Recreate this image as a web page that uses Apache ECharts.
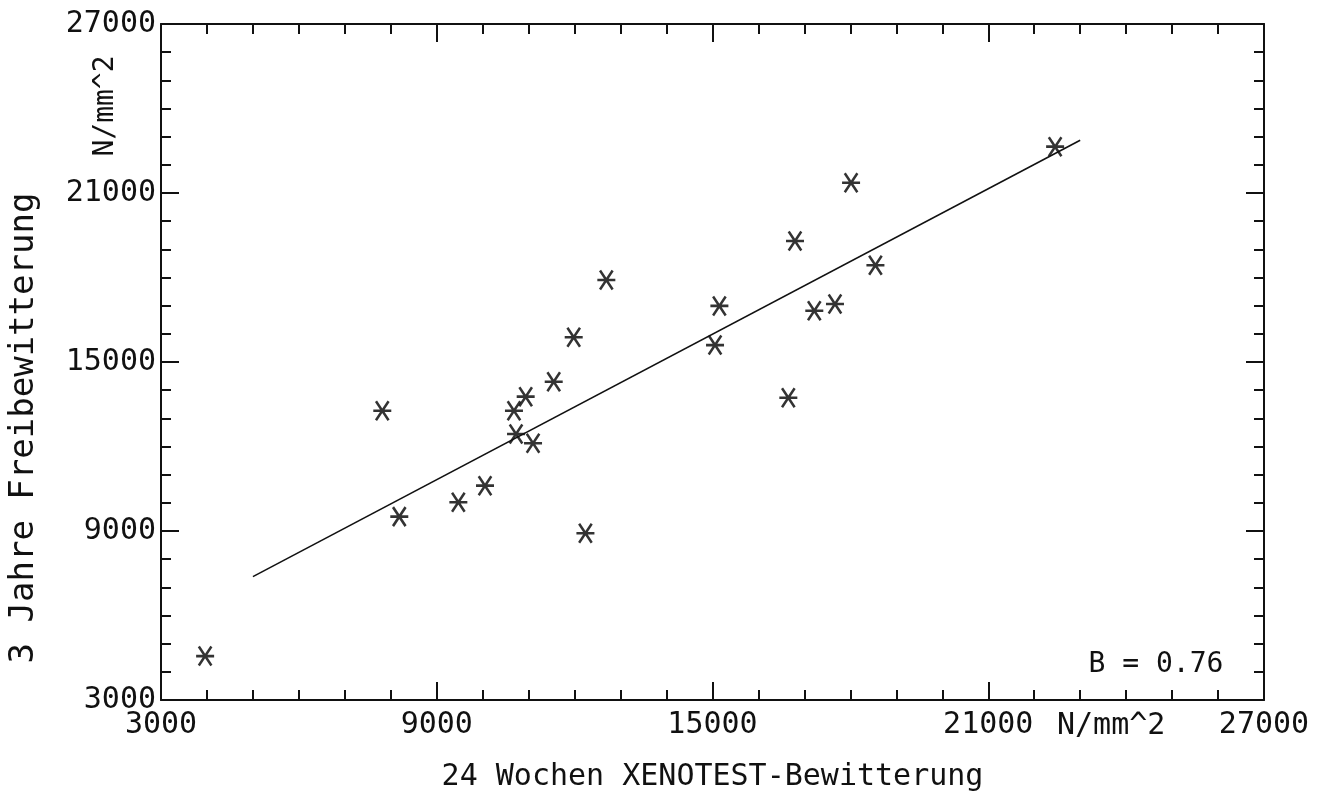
<!DOCTYPE html>
<html>
<head>
<meta charset="utf-8">
<script src="https://cdn.jsdelivr.net/npm/echarts@6/dist/echarts.min.js"></script>
<style>
html,body{margin:0;padding:0;background:#fff;}
#chart{width:1326px;height:802px;}
</style>
</head>
<body>
<div id="chart"></div>
<script>
// Data
var xVals = [3960, 7815, 8185, 9470, 10050, 10680, 10725, 10935, 11095, 11545, 11980, 12235, 12690, 15055, 15150, 16650, 16795, 17215, 17665, 18015, 18545, 22455];
var yVals = [4560, 13270, 9510, 10020, 10610, 13270, 12445, 13770, 12115, 14300, 15880, 8920, 17910, 15600, 16990, 13730, 19295, 16820, 17060, 21365, 18435, 22645];
var lineX = [5000, 23000];
var lineY = [7380, 22870];
var tickLabels = ['3000', '9000', '15000', '21000', '27000'];
var xTitle = '24 Wochen XENOTEST-Bewitterung';
var yTitle = '3 Jahre Freibewitterung';
var unitLabel = 'N/mm^2';
var bLabel = 'B = 0.76';

var FONT = 'DejaVu Sans Mono';
var INK = '#111111';

var points = xVals.map(function (x, i) { return [x, yVals[i]]; });
var linePts = lineX.map(function (x, i) { return [x, lineY[i]]; });

function fmt(v) {
  var s = String(Math.round(v));
  return tickLabels.indexOf(s) >= 0 ? s : '';
}

function axisBase(extra) {
  var a = {
    type: 'value', min: 3000, max: 27000, interval: 6000,
    axisLine: { show: true, lineStyle: { color: INK, width: 2 } },
    axisTick: { show: true, inside: true, length: 18, lineStyle: { color: INK, width: 2 } },
    minorTick: { show: true, splitNumber: 6, length: 10, lineStyle: { color: INK, width: 2 } },
    splitLine: { show: false },
    minorSplitLine: { show: false },
    axisLabel: { show: false }
  };
  for (var k in extra) a[k] = extra[k];
  return a;
}

var chart = echarts.init(document.getElementById('chart'), null, { renderer: 'canvas' });
chart.setOption({
  backgroundColor: '#ffffff',
  animation: false,
  grid: { left: 161, top: 24, width: 1103, height: 676 },
  xAxis: [
    axisBase({
      position: 'bottom',
      axisLabel: { show: true, formatter: fmt, fontFamily: FONT, fontSize: 30, color: INK, margin: 10, showMinLabel: true, showMaxLabel: true },
      name: xTitle, nameLocation: 'middle', nameGap: 62,
      nameTextStyle: { fontFamily: FONT, fontSize: 30, color: INK }
    }),
    axisBase({ position: 'top' })
  ],
  yAxis: [
    axisBase({
      position: 'left',
      axisLabel: { show: true, formatter: fmt, fontFamily: FONT, fontSize: 30, color: INK, margin: 5, showMinLabel: true, showMaxLabel: true }
    }),
    axisBase({ position: 'right' })
  ],
  graphic: [
    { type: 'text', x: 106, y: 106, rotation: Math.PI / 2,
      style: { text: unitLabel, fontFamily: FONT, fontSize: 28, fill: INK, textAlign: 'center', textVerticalAlign: 'middle' } },
    { type: 'text', x: 24, y: 428, rotation: Math.PI / 2,
      style: { text: yTitle, fontFamily: FONT, fontSize: 34, fill: INK, textAlign: 'center', textVerticalAlign: 'middle' } },
    { type: 'text', x: 1057, y: 726,
      style: { text: unitLabel, fontFamily: FONT, fontSize: 30, fill: INK, textAlign: 'left', textVerticalAlign: 'middle' } },
    { type: 'text', x: 1156, y: 665,
      style: { text: bLabel, fontFamily: FONT, fontSize: 28, fill: INK, textAlign: 'center', textVerticalAlign: 'middle' } }
  ],
  series: [
    {
      type: 'line', data: linePts, xAxisIndex: 0, yAxisIndex: 0,
      showSymbol: false, symbol: 'none', silent: true,
      lineStyle: { color: INK, width: 1.6 }
    },
    {
      type: 'scatter', data: points, xAxisIndex: 0, yAxisIndex: 0,
      symbol: 'path://M0,10 L20,10 M3,0 L17,20 M17,0 L3,20',
      symbolSize: [18, 19],
      itemStyle: { color: 'rgba(0,0,0,0)', borderColor: '#000', borderWidth: 2.6 }
    }
  ]
});
</script>
</body>
</html>
